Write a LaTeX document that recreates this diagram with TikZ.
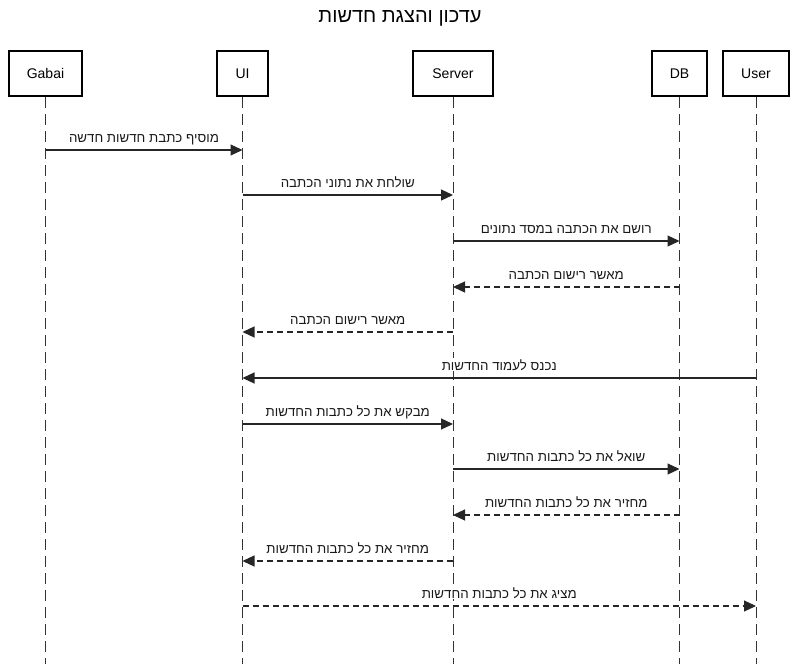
\documentclass[tikz,border=0pt]{standalone}
\usepackage{fontspec}
\setmainfont{Liberation Sans}
\newfontfamily\heb[Script=Hebrew]{Liberation Sans}
\TeXXeTstate=1
\usetikzlibrary{arrows.meta}
\newcommand{\rtltext}[1]{{\heb\beginR #1\endR}}
\begin{document}
\begin{tikzpicture}[x=1pt,y=-1pt,
  actor/.style={draw=black, line width=2pt, minimum height=45pt, inner sep=0pt, font=\fontsize{14}{16}\selectfont},
  lifeline/.style={draw=black!80, line width=1pt, dash pattern=on 11pt off 6pt},
  msg/.style={draw=black!85, line width=1.2pt, -{Triangle[length=12pt,width=11pt]}},
  ret/.style={msg, dash pattern=on 6pt off 4pt},
  lbl/.style={midway, anchor=base, yshift=8pt, inner xsep=1pt, inner ysep=1pt, fill=white, font=\fontsize{13.3}{15}\selectfont, text=black!90}]
\useasboundingbox (0,0) rectangle (798,664);
\node[font=\fontsize{20}{22}\selectfont] (title) at (400,18) {\rtltext{עדכון והצגת חדשות}};
\node[actor, minimum width=73pt] (gabai) at (45.5,73.5) {Gabai};
\node[actor, minimum width=51pt] (ui) at (242.5,73.5) {UI};
\node[actor, minimum width=80pt] (server) at (453,73.5) {Server};
\node[actor, minimum width=55pt] (db) at (679.5,73.5) {DB};
\node[actor, minimum width=66pt] (user) at (756,73.5) {User};
\foreach \n in {gabai,ui,server,db,user}{
  \coordinate (\n-end) at (\n.south |- 0,664);
  \draw[lifeline] (\n.south) -- (\n-end);
}
\draw[msg] (gabai.south |- 0,150) -- (ui.south |- 0,150) node[lbl] {\rtltext{מוסיף כתבת חדשות חדשה}};
\draw[msg] (ui.south |- 0,195) -- (server.south |- 0,195) node[lbl] {\rtltext{שולחת את נתוני הכתבה}};
\draw[msg] (server.south |- 0,241) -- (db.south |- 0,241) node[lbl] {\rtltext{רושם את הכתבה במסד נתונים}};
\draw[ret] (db.south |- 0,287) -- (server.south |- 0,287) node[lbl] {\rtltext{מאשר רישום הכתבה}};
\draw[ret] (server.south |- 0,332) -- (ui.south |- 0,332) node[lbl] {\rtltext{מאשר רישום הכתבה}};
\draw[msg] (user.south |- 0,378) -- (ui.south |- 0,378) node[lbl] {\rtltext{נכנס לעמוד החדשות}};
\draw[msg] (ui.south |- 0,424) -- (server.south |- 0,424) node[lbl] {\rtltext{מבקש את כל כתבות החדשות}};
\draw[msg] (server.south |- 0,469) -- (db.south |- 0,469) node[lbl] {\rtltext{שואל את כל כתבות החדשות}};
\draw[ret] (db.south |- 0,515) -- (server.south |- 0,515) node[lbl] {\rtltext{מחזיר את כל כתבות החדשות}};
\draw[ret] (server.south |- 0,561) -- (ui.south |- 0,561) node[lbl] {\rtltext{מחזיר את כל כתבות החדשות}};
\draw[ret] (ui.south |- 0,606) -- (user.south |- 0,606) node[lbl] {\rtltext{מציג את כל כתבות החדשות}};
\end{tikzpicture}
\end{document}
